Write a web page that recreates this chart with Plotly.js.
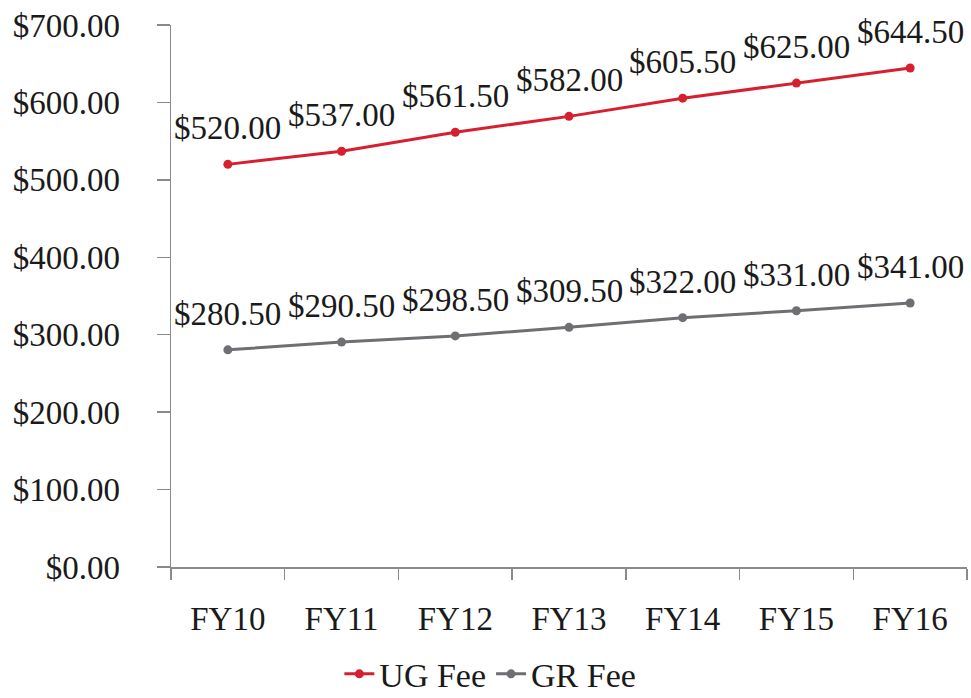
<!DOCTYPE html>
<html>
<head>
<meta charset="utf-8">
<script src="https://cdn.plot.ly/plotly-3.0.1.min.js"></script>
<style>html,body{margin:0;padding:0;background:#fff;}#chart{width:971px;height:698px;}</style>
</head>
<body>
<div id="chart"></div>
<script>
const categories = ['FY10','FY11','FY12','FY13','FY14','FY15','FY16'];
const ugFee = [520.00, 537.00, 561.50, 582.00, 605.50, 625.00, 644.50];
const grFee = [280.50, 290.50, 298.50, 309.50, 322.00, 331.00, 341.00];
const seriesNames = ['UG Fee', 'GR Fee'];
const yTickVals = [0, 100, 200, 300, 400, 500, 600, 700];

const FONT = '"Liberation Serif", "Times New Roman", serif';
const fmt = v => '$' + v.toFixed(2);

function series(name, vals, color) {
  return {
    type: 'scatter', mode: 'lines+markers', name: name,
    x: categories, y: vals,
    line: {color: color, width: 3},
    marker: {color: color, size: 9},
    cliponaxis: false, hoverinfo: 'skip'
  };
}

const data = [
  series(seriesNames[0], ugFee, '#d6202f'),
  series(seriesNames[1], grFee, '#6f6f73')
];

const annotations = [];
[ugFee, grFee].forEach(vals => {
  vals.forEach((v, i) => {
    annotations.push({
      x: categories[i], y: v, xref: 'x', yref: 'y',
      text: fmt(v), showarrow: false,
      xanchor: 'center', yanchor: 'bottom', yshift: 16,
      font: {family: FONT, size: 33, color: '#1a1a1a'}
    });
  });
});

const layout = {
  width: 971, height: 698,
  margin: {l: 171, r: 4, t: 25, b: 131},
  paper_bgcolor: '#fff', plot_bgcolor: '#fff',
  font: {family: FONT, size: 33, color: '#1a1a1a'},
  showlegend: true,
  annotations: annotations,
  legend: {orientation: 'h', x: 0.505, xanchor: 'center', xref: 'container',
           y: 0.034, yanchor: 'middle', yref: 'container',
           font: {family: FONT, size: 34, color: '#1a1a1a'}, itemwidth: 30, tracegroupgap: 0},
  xaxis: {
    type: 'category', range: [-0.5, 6.5], tickson: 'boundaries',
    showline: true, linecolor: '#8a8a8a', linewidth: 1.5,
    ticks: 'outside', ticklen: 11, tickwidth: 1.5, tickcolor: '#8a8a8a',
    ticklabelstandoff: 22,
    showgrid: false, zeroline: false, fixedrange: true
  },
  yaxis: {
    range: [0, 700], tickvals: yTickVals, ticktext: yTickVals.map(fmt),
    showline: true, linecolor: '#8a8a8a', linewidth: 1.5,
    ticks: 'outside', ticklen: 13, tickwidth: 1.5, tickcolor: '#8a8a8a',
    ticklabelstandoff: 30,
    showgrid: false, zeroline: false, fixedrange: true
  }
};

Plotly.newPlot('chart', data, layout, {displayModeBar: false, staticPlot: true});
</script>
</body>
</html>
